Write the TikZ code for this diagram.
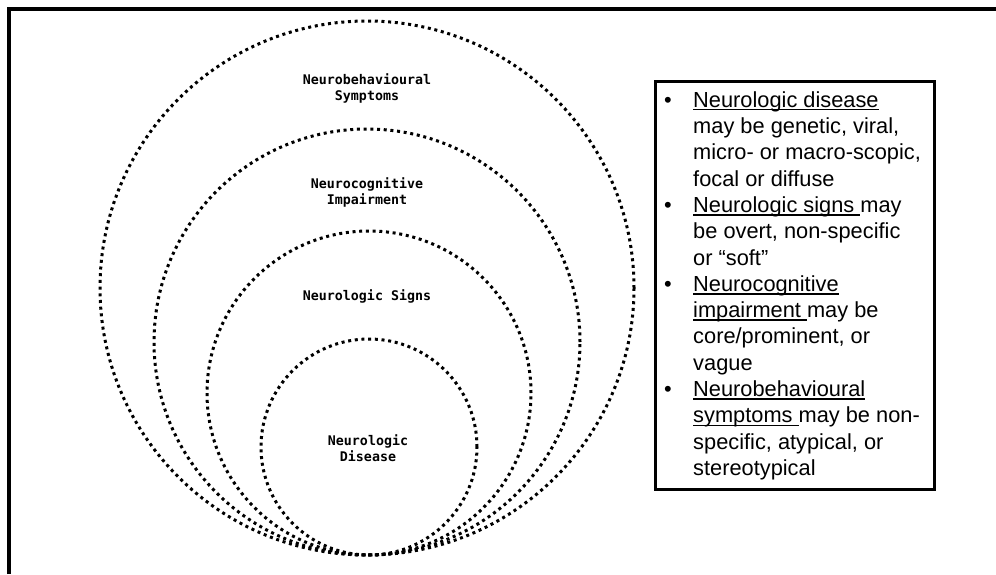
\documentclass[tikz,border=0pt]{standalone}
\usepackage{fontspec}
\setmainfont{Liberation Sans}
\newfontfamily\ringfont{DejaVu Sans Mono}
\usepackage{tikz}
\usetikzlibrary{positioning}

\newcommand{\undl}[1]{\setbox0\hbox{#1}\rlap{\rule[-3.2pt]{\wd0}{1.4pt}}\box0}

\begin{document}
\begin{tikzpicture}[x=1pt,y=-1pt]
\tikzset{
    ring/.style={%
        draw=black,
        circle,
        inner sep=0pt,
        line width=3pt,
        dash pattern=on 3pt off 3.7pt
        },
    lbl/.style={%
        align=center,
        inner sep=0pt,
        font=\ringfont\bfseries\fontsize{13.3}{16}\selectfont
        },
    notebox/.style={%
        draw=black,
        line width=3.2pt,
        rectangle,
        minimum width=279pt,
        minimum height=408pt
        },
}
\useasboundingbox (0,0) rectangle (996,574);
%%%FRAME
\draw[line width=4.5pt] (9,574) -- (9,9) -- (996,9);
%%%RINGS
\node[ring, minimum size=534pt] (symptoms) at (367,288) {};
\node[ring, minimum size=426pt] (impairment) at (367,342) {};
\node[ring, minimum size=324pt] (signs) at (369,393) {};
\node[ring, minimum size=216pt] (disease) at (369,447) {};
%%%RING LABELS
\node[lbl] (tsymptoms) at (367,88) {Neurobehavioural\\Symptoms};
\node[lbl] (timpairment) at (367,192) {Neurocognitive\\Impairment};
\node[lbl] (tsigns) at (367,296) {Neurologic Signs};
\node[lbl] (tdisease) at (368,448) {Neurologic\\Disease};
%%%NOTES
\node[notebox] (box) at (795,285.4) {};
\node[anchor=north west, inner sep=0pt, font=\fontsize{21.8}{26.3}\selectfont]
  (notes) at (664,88.6) {%
  \begin{tabular}{@{}l@{\hspace{21.4pt}}l@{}}
  \textbullet & \undl{Neurologic disease}\\
   & may be genetic, viral,\\
   & micro- or macro-scopic,\\
   & focal or diffuse\\
  \textbullet & \undl{Neurologic signs }may\\
   & be overt, non-specific\\
   & or “soft”\\
  \textbullet & \undl{Neurocognitive}\\
   & \undl{impairment }may be\\
   & core/prominent, or\\
   & vague\\
  \textbullet & \undl{Neurobehavioural}\\
   & \undl{symptoms }may be non-\\
   & specific, atypical, or\\
   & stereotypical
  \end{tabular}};
\end{tikzpicture}
\end{document}
